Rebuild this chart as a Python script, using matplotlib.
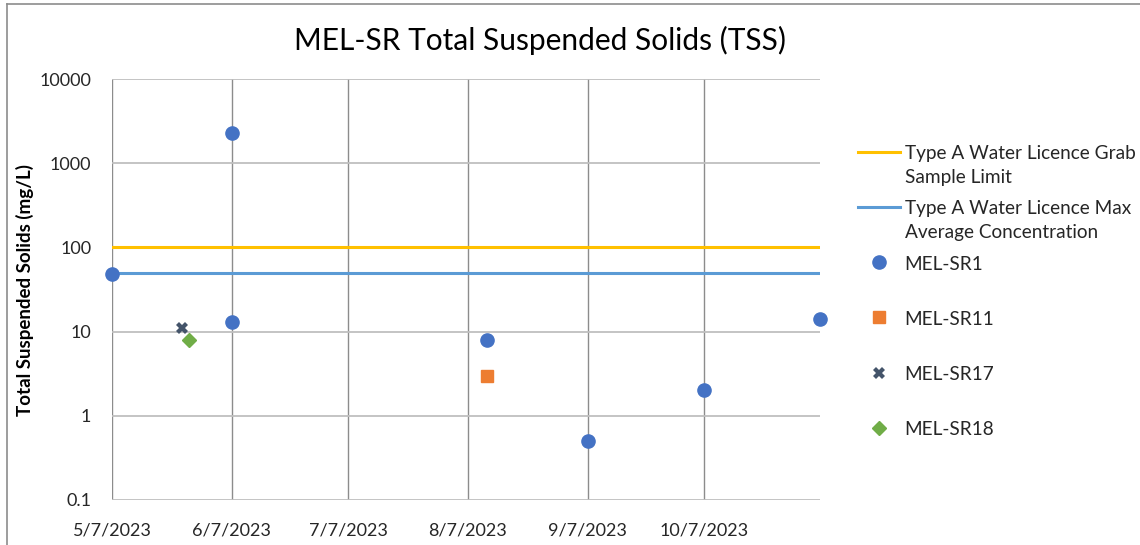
import matplotlib
matplotlib.use("Agg")
import matplotlib.pyplot as plt
from matplotlib.lines import Line2D
from datetime import datetime

plt.rcParams['font.family'] = ['Lato', 'DejaVu Sans']
plt.rcParams['ytick.major.pad'] = 15
plt.rcParams['xtick.major.pad'] = 16

# ---- data ----
title = "MEL-SR Total Suspended Solids (TSS)"
ylabel = "Total Suspended Solids (mg/L)"

grab_limit = 100
max_avg_conc = 50
grab_label = "Type A Water Licence Grab\nSample Limit"
maxavg_label = "Type A Water Licence Max\nAverage Concentration"

sr1_dates = ["2023-05-07", "2023-06-07", "2023-06-07", "2023-08-12",
             "2023-09-07", "2023-10-07", "2023-11-06"]
sr1_values = [48, 2300, 13, 8, 0.5, 2, 14]

sr11_dates = ["2023-08-12"]
sr11_values = [3]

sr17_dates = ["2023-05-25"]
sr17_values = [11]

sr18_dates = ["2023-05-27"]
sr18_values = [8]

x_start = "2023-05-07"
x_end = "2023-11-06"
tick_dates = ["2023-05-07", "2023-06-07", "2023-07-07", "2023-08-07",
              "2023-09-07", "2023-10-07"]
tick_labels = ["5/7/2023", "6/7/2023", "7/7/2023", "8/7/2023",
               "9/7/2023", "10/7/2023"]
y_ticks = [0.1, 1, 10, 100, 1000, 10000]
y_tick_labels = ["0.1", "1", "10", "100", "1000", "10000"]

def d(s):
    return datetime.strptime(s, "%Y-%m-%d")

# ---- figure ----
fig = plt.figure(figsize=(11.4, 5.45), dpi=100)
ax = fig.add_axes([112/1140, 1-500/545, (820-112)/1140, (500-79)/545])

ax.set_yscale("log")
ax.set_ylim(0.1, 10000)
ax.set_xlim(d(x_start), d(x_end))

# grid / ticks
ax.set_yticks(y_ticks)
ax.set_yticklabels(y_tick_labels)
ax.yaxis.set_minor_locator(matplotlib.ticker.NullLocator())
ax.set_xticks([d(t) for t in tick_dates])
ax.set_xticklabels(tick_labels)
ax.grid(axis="y", color="#BFBFBF", linewidth=1.3, zorder=0)
ax.grid(axis="x", color="#8C8C8C", linewidth=1.0, zorder=0)
for s in ax.spines.values():
    s.set_visible(False)
ax.tick_params(axis="both", length=0, labelsize=13, labelcolor="#262626")

# limit lines
ax.axhline(grab_limit, color="#FFC000", linewidth=2.2, label=grab_label, zorder=2)
ax.axhline(max_avg_conc, color="#5B9BD5", linewidth=2.2, label=maxavg_label, zorder=2)

# series
ax.plot([d(s) for s in sr1_dates], sr1_values, linestyle="none", marker="o",
        markersize=9.5, color="#4472C4", label="MEL-SR1\n", zorder=3, clip_on=False)
ax.plot([d(s) for s in sr11_dates], sr11_values, linestyle="none", marker="s",
        markersize=8, color="#ED7D31", label="MEL-SR11\n", zorder=3)
ax.plot([d(s) for s in sr17_dates], sr17_values, linestyle="none", marker="X",
        markersize=9, color="#44546A", markeredgewidth=0, label="MEL-SR17\n", zorder=3)
ax.plot([d(s) for s in sr18_dates], sr18_values, linestyle="none", marker="D",
        markersize=7.5, color="#70AD47", label="MEL-SR18\n", zorder=3)

yl = ax.set_ylabel(ylabel, fontsize=13.5, fontweight="bold", color="#000000")
yl.set_verticalalignment("center")
ax.yaxis.set_label_coords(-87/708, (500-290)/421)

fig.text(540/1140, 1-40/545, title, fontsize=21.5, ha="center", va="center", color="#000000")

leg = fig.legend(loc="upper left", bbox_to_anchor=(858/1140, 1-145/545),
                 frameon=False, fontsize=13.7, handlelength=2.2, handletextpad=0.25,
                 labelspacing=0.75, borderpad=0, borderaxespad=0)
for t in leg.get_texts():
    t.set_color("#262626")
    t.set_linespacing(1.5)
try:
    for col in leg._legend_handle_box.get_children():
        for hp in col.get_children():
            hp.align = "top"
except Exception:
    pass

# chart border (left and top edges)
fig.add_artist(Line2D([7/1140, 7/1140], [0, 1-4/545], transform=fig.transFigure,
                      color="#8C8C8C", linewidth=1.2))
fig.add_artist(Line2D([7/1140, 1], [1-4/545, 1-4/545], transform=fig.transFigure,
                      color="#8C8C8C", linewidth=1.2))

fig.savefig("out.png", dpi=100)
